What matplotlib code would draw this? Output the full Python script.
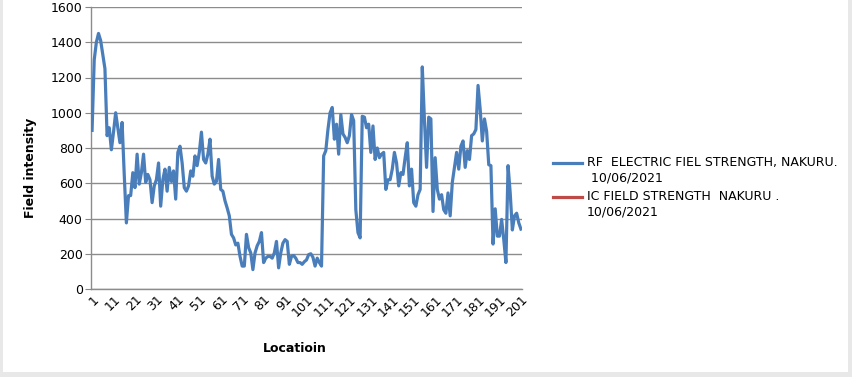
import matplotlib.pyplot as plt
import numpy as np
from matplotlib.patches import Rectangle
from matplotlib.lines import Line2D

# field strength readings, one per location
rf_strength = [
    900, 1300, 1400, 1450, 1410, 1330, 1250, 870, 915, 790,
    890, 1000, 915, 830, 945, 650, 375, 530, 530, 660,
    575, 765, 595, 660, 765, 605, 650, 620, 490, 585,
    620, 715, 470, 620, 680, 555, 690, 610, 670, 510,
    775, 810, 715, 575, 555, 585, 670, 640, 755, 700,
    775, 890, 735, 715, 765, 850, 640, 595, 610, 735,
    565, 555, 500, 460, 415, 310, 290, 250, 260, 185,
    130, 130, 310, 235, 205, 110, 205, 245, 270, 320,
    150, 175, 185, 185, 175, 205, 270, 120, 205, 260,
    280, 270, 140, 185, 190, 175, 150, 150, 140, 155,
    165, 195, 200, 180, 130, 175, 150, 130, 755, 785,
    905, 1000, 1030, 850, 935, 765, 990, 880, 860, 830,
    870, 990, 955, 450, 320, 290, 980, 975, 915, 935,
    775, 925, 735, 800, 745, 765, 775, 565, 620, 620,
    680, 775, 715, 585, 660, 650, 745, 830, 585, 680,
    490, 470, 535, 565, 1260, 960, 690, 975, 965, 440,
    745, 565, 510, 535, 450, 430, 545, 415, 605, 690,
    775, 680, 810, 840, 690, 785, 735, 870, 880, 905,
    1155, 1020, 840, 965, 895, 705, 700, 255, 455, 300,
    300, 395, 280, 150, 700, 545, 335, 415, 430, 375,
    340,
]
ic_strength = []  # second series has no visible values

rf_label = ["RF  ELECTRIC FIEL STRENGTH, NAKURU.", " 10/06/2021"]
ic_label = ["IC FIELD STRENGTH  NAKURU .", "10/06/2021"]
rf_color = '#4a7ebb'
ic_color = '#be4b48'

locations = np.arange(1, len(rf_strength) + 1)
y_ticks = np.arange(0, 1601, 200)
x_ticks = np.arange(1, len(rf_strength) + 1, 10)

plt.rcParams['font.family'] = 'DejaVu Sans'

W, H = 852, 377
fig = plt.figure(figsize=(W / 100, H / 100), dpi=100, facecolor='#e8e8e8')

# white chart area sitting on the spreadsheet
fig.patches.append(Rectangle((3 / W, 5 / H), 845 / W, 372 / H,
                             transform=fig.transFigure, facecolor='white',
                             edgecolor='none', zorder=-5))

ax = fig.add_axes([91 / W, 1 - 289 / H, 431 / W, 282 / H])
ax.set_facecolor('white')

ax.plot(locations, rf_strength, color=rf_color, linewidth=2.3,
        solid_joinstyle='round', zorder=3)
ax.plot(locations[:len(ic_strength)], ic_strength, color=ic_color,
        linewidth=2.3, zorder=3)

ax.set_xlim(0.5, len(rf_strength) + 0.5)
ax.set_ylim(0, 1600)
ax.set_yticks(y_ticks)
ax.set_xticks(x_ticks)
ax.set_xticklabels([str(t) for t in x_ticks], rotation=45, ha='right',
                   va='top', rotation_mode='anchor', fontsize=9)
ax.tick_params(axis='y', labelsize=9, length=4, color='#888888', pad=2)
ax.tick_params(axis='x', length=0, pad=3)

ax.grid(axis='y', color='#8c8c8c', linewidth=1)
ax.set_axisbelow(True)
for side in ['top', 'right']:
    ax.spines[side].set_visible(False)
for side in ['left', 'bottom']:
    ax.spines[side].set_color('#8c8c8c')
    ax.spines[side].set_linewidth(1)

fig.text(31 / W, 1 - 168 / H, 'Field intensity', rotation=90,
         ha='center', va='center', fontsize=9, fontweight='bold')
fig.text(295 / W, 1 - 348 / H, 'Locatioin', ha='center', va='center',
         fontsize=9, fontweight='bold')

# legend: handle lines up with the first text line, as in the spreadsheet
for y0, color, lines in [(163, rf_color, rf_label), (197, ic_color, ic_label)]:
    fig.add_artist(Line2D([553 / W, 582 / W], [1 - y0 / H, 1 - y0 / H],
                          color=color, linewidth=2.3,
                          transform=fig.transFigure))
    for k, line in enumerate(lines):
        fig.text(587 / W, 1 - (y0 + 15 * k) / H, line, ha='left',
                 va='center', fontsize=9)

fig.savefig('out.png', dpi=100, facecolor=fig.get_facecolor())
